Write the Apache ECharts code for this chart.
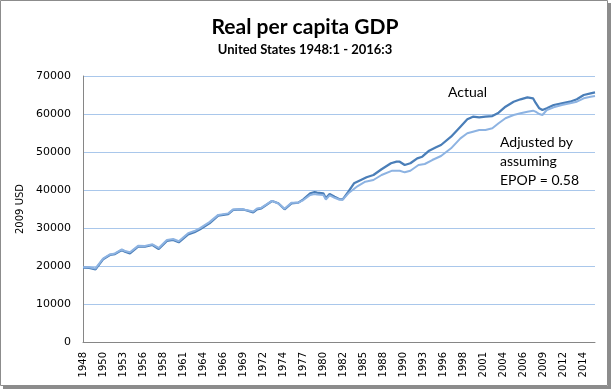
<!DOCTYPE html>
<html><head><meta charset="utf-8">
<script src="https://cdn.jsdelivr.net/npm/echarts@6/dist/echarts.min.js"></script>
<style>html,body{margin:0;padding:0;background:#fff}#c{width:612px;height:389px}</style>
</head><body><div id="c"></div>
<script>
// Monthly categories 1948-01 .. 2016-03
const months = [];
for (let y = 1948; y <= 2016; y++) {
  for (let m = 1; m <= 12; m++) {
    if (y === 2016 && m > 3) break;
    months.push(y + '-' + (m < 10 ? '0' + m : '' + m));
  }
}

const actualDates = ['1948-01','1948-11','1949-09','1950-09','1951-08','1952-04','1953-03','1953-08','1954-04','1955-05','1956-04','1957-04','1958-02','1959-03','1960-01','1960-10','1962-01','1962-11','1963-08','1964-11','1966-01','1967-05','1968-01','1969-03','1969-08','1970-09','1971-03','1971-10','1973-03','1974-01','1974-11','1975-10','1976-09','1977-05','1978-04','1978-11','1979-03','1980-01','1980-05','1980-11','1981-07','1982-02','1982-08','1983-05','1984-02','1985-01','1985-10','1986-09','1987-10','1989-01','1989-10','1990-03','1990-11','1991-08','1992-07','1993-03','1994-02','1995-01','1995-09','1997-01','1998-04','1999-03','1999-12','2000-10','2001-08','2002-07','2003-05','2004-04','2005-05','2006-04','2007-03','2007-12','2008-04','2008-10','2009-03','2009-10','2010-09','2011-10','2012-11','2013-10','2014-09','2015-08','2016-03'];
const actualValues = [19550,19500,19100,21760,22900,23150,24200,23770,23340,25080,25080,25530,24470,26580,26840,26230,28340,28870,29650,31230,33240,33680,34740,34920,34740,34130,34920,35180,37100,36500,34920,36500,36660,37550,39130,39470,39290,39130,37810,38950,38240,37630,37550,39560,41760,42630,43340,43950,45450,47030,47450,47450,46580,47030,48340,48760,50340,51230,51840,54030,56660,58600,59300,59130,59300,59470,60340,61920,63240,63870,64390,64130,62970,61500,61050,61500,62370,62810,63240,63870,65000,65450,65700];

const adjustedDates = ['1948-01','1948-11','1949-09','1950-09','1951-08','1952-04','1953-03','1953-08','1954-04','1955-05','1956-04','1957-04','1958-02','1959-03','1960-01','1960-10','1962-01','1962-11','1963-08','1964-11','1966-01','1967-05','1968-01','1969-03','1969-08','1970-09','1971-03','1971-10','1973-03','1974-01','1974-11','1975-10','1976-09','1977-05','1978-04','1978-11','1979-03','1980-01','1980-05','1980-11','1981-07','1982-02','1982-08','1983-05','1984-08','1985-08','1986-09','1987-10','1989-03','1990-03','1990-11','1991-08','1992-09','1993-07','1994-07','1995-09','1997-01','1998-04','1999-03','1999-12','2000-10','2001-08','2002-07','2003-05','2004-04','2005-05','2006-04','2007-03','2007-12','2008-04','2008-10','2009-03','2009-10','2010-09','2011-10','2012-11','2013-10','2014-09','2015-08','2016-03'];
const adjustedValues = [19700,19650,19350,21950,23050,23300,24350,23950,23600,25300,25250,25700,24750,26850,27100,26500,28650,29200,29950,31550,33450,33850,34900,35000,34800,34350,35150,35350,37150,36450,35050,36650,36650,37350,38700,38950,38800,38700,37500,38600,37950,37500,37450,39130,41050,42190,42630,43950,45080,45080,44650,45080,46580,46840,47890,48950,50970,53600,54920,55340,55790,55790,56230,57550,58870,59740,60180,60610,60870,60610,60000,59740,61050,61760,62370,62810,63240,64130,64550,64750];

const yTicks = {min: 0, max: 70000, interval: 10000};

const zip = (d, v) => d.map((x, i) => [x, v[i]]);

const chart = echarts.init(document.getElementById('c'), null, {renderer: 'canvas'});
chart.setOption({
  animation: false,
  backgroundColor: '#fff',
  grid: {left: 83, right: 17, top: 76, bottom: 47, containLabel: false},
  xAxis: {
    type: 'category',
    data: months,
    boundaryGap: false,
    axisLine: {lineStyle: {color: '#868686', width: 1}},
    axisTick: {show: false},
    splitLine: {show: false},
    axisLabel: {
      interval: 31, rotate: 90, margin: 10,
      fontFamily: 'DejaVu Sans', fontSize: 10, color: '#000',
      formatter: v => v.slice(0, 4)
    }
  },
  yAxis: {
    type: 'value',
    min: yTicks.min, max: yTicks.max, interval: yTicks.interval,
    name: '2009 USD', nameLocation: 'middle', nameRotate: 90, nameGap: 40,
    nameTextStyle: {fontFamily: 'DejaVu Sans', fontSize: 10, color: '#000'},
    axisLine: {show: true, lineStyle: {color: '#868686', width: 1}},
    axisTick: {show: false},
    splitLine: {lineStyle: {color: '#a9c7eb', width: 1}},
    axisLabel: {fontFamily: 'DejaVu Sans', fontSize: 11, color: '#000', margin: 12, formatter: v => String(v)}
  },
  series: [
    {
      name: 'Actual', type: 'line', data: zip(actualDates, actualValues),
      showSymbol: false, symbol: 'none', connectNulls: true,
      lineStyle: {color: '#4a7eb8', width: 2.25}, z: 2
    },
    {
      name: 'Adjusted', type: 'line', data: zip(adjustedDates, adjustedValues),
      showSymbol: false, symbol: 'none', connectNulls: true,
      lineStyle: {color: '#8db3e2', width: 2}, z: 3
    }
  ],
  graphic: [
    {type: 'rect', shape: {x: 0.5, y: 0.5, width: 607, height: 385}, style: {fill: 'none', stroke: '#8c8c8c', lineWidth: 1}, silent: true},
    {type: 'rect', shape: {x: 608, y: 3, width: 3, height: 385}, style: {fill: '#8c8c8c'}, silent: true},
    {type: 'rect', shape: {x: 3, y: 386, width: 608, height: 3}, style: {fill: '#8c8c8c'}, silent: true},
    {type: 'text', x: 305, y: 27, style: {text: 'Real per capita GDP', fontFamily: 'Lato', fontWeight: 'bold', fontSize: 21, fill: '#000', textAlign: 'center', textVerticalAlign: 'middle'}},
    {type: 'text', x: 305, y: 50, style: {text: 'United States 1948:1 - 2016:3', fontFamily: 'Lato', fontWeight: 'bold', fontSize: 13, fill: '#000', textAlign: 'center', textVerticalAlign: 'middle'}},
    {type: 'text', x: 448, y: 92, style: {text: 'Actual', fontFamily: 'Lato', fontSize: 14, fill: '#000', textAlign: 'left', textVerticalAlign: 'middle'}},
    {type: 'text', x: 500, y: 133, style: {text: 'Adjusted by\nassuming\nEPOP = 0.58', fontFamily: 'Lato', fontSize: 14, lineHeight: 19, fill: '#000', textAlign: 'left', textVerticalAlign: 'top'}}
  ]
});
</script>
</body></html>
